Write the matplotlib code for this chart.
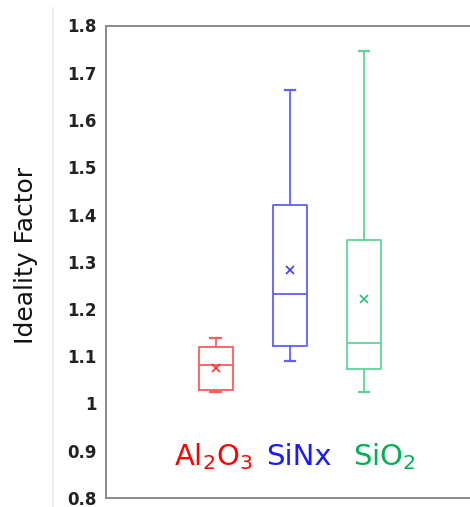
import matplotlib
matplotlib.use("Agg")
import matplotlib.pyplot as plt
from matplotlib.lines import Line2D

# values (ideality factor)
materials = ["Al2O3", "SiNx", "SiO2"]
label_text = [r"Al$_2$O$_3$", "SiNx", r"SiO$_2$"]
whis_lo = [1.025, 1.090, 1.025]
q1 = [1.028, 1.122, 1.072]
median = [1.082, 1.232, 1.129]
q3 = [1.119, 1.421, 1.347]
whis_hi = [1.138, 1.663, 1.745]
mean = [1.076, 1.282, 1.221]

box_colors = ["#ff5c5c", "#6060ff", "#5ed49a"]
mean_colors = ["#ff3030", "#3c3cf0", "#2cbf78"]
text_colors = ["#ff0000", "#1a1aff", "#00b050"]
yticks = [0.8, 0.9, 1.0, 1.1, 1.2, 1.3, 1.4, 1.5, 1.6, 1.7, 1.8]
ytick_labels = ["0.8", "0.9", "1", "1.1", "1.2", "1.3", "1.4", "1.5", "1.6", "1.7", "1.8"]

plt.rcParams["font.family"] = ["DejaVu Sans"]
plt.rcParams["mathtext.default"] = "regular"

W, H = 470, 507
fig = plt.figure(figsize=(W / 100, H / 100), dpi=100)
ax = fig.add_axes([106 / W, 1 - 498 / H, 1 - 106 / W, (498 - 25.5) / H])

# faint border line at the left of the picture
fig.add_artist(Line2D([53 / W, 53 / W], [0, 1 - 8 / H], transform=fig.transFigure,
                      color="#e6e6e6", lw=1.2))

positions = [1, 2, 3]
for i in range(len(materials)):
    stats = [{"med": median[i], "q1": q1[i], "q3": q3[i],
              "whislo": whis_lo[i], "whishi": whis_hi[i], "mean": mean[i],
              "fliers": []}]
    c = box_colors[i]
    ax.bxp(stats, positions=[positions[i]], widths=0.46, capwidths=0.14,
           showmeans=True, showfliers=False,
           boxprops=dict(color=c, lw=1.3),
           medianprops=dict(color=c, lw=1.3),
           whiskerprops=dict(color=c, lw=1.3),
           capprops=dict(color=c, lw=1.6),
           meanprops=dict(marker="x", markeredgecolor=mean_colors[i],
                          markersize=6, markeredgewidth=1.2))

label_x = [0.968, 2.125, 3.275]
for i in range(len(materials)):
    ax.text(label_x[i], 0.870, label_text[i], color=text_colors[i], fontsize=21,
            ha="center", va="baseline")

ax.set_xlim(-0.476, 4.423)
ax.set_ylim(0.8, 1.8)
ax.set_xticks([])
ax.set_yticks(yticks)
ax.set_yticklabels(ytick_labels, fontweight="bold", fontsize=12, color="#222222")
ax.tick_params(axis="y", length=0, pad=7)
ax.spines["right"].set_visible(False)
for s in ["top", "bottom", "left"]:
    ax.spines[s].set_color("#8a8a8a")
    ax.spines[s].set_linewidth(1.4)

fig.text(26 / W, 1 - 255 / H, "Ideality Factor", rotation=90, fontsize=18,
         ha="center", va="center", color="#111111")

fig.savefig("out.png", dpi=100)
